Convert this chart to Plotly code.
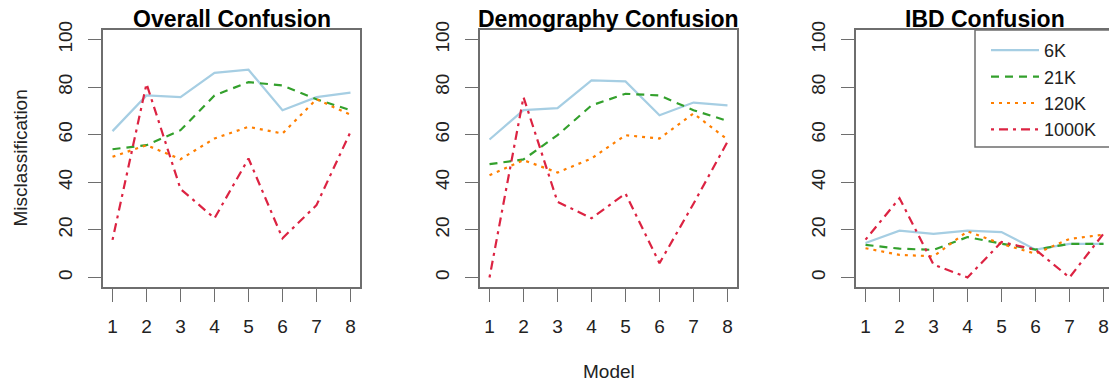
import plotly.graph_objects as go

# Misclassification (%) of each model (1-8) for four marker-panel sizes
models = [1, 2, 3, 4, 5, 6, 7, 8]
series_names = ["6K", "21K", "120K", "1000K"]
panel_titles = ["Overall Confusion", "Demography Confusion", "IBD Confusion"]

overall_6k = [61.5, 76.5, 75.8, 86.0, 87.3, 70.3, 75.8, 77.7]
overall_21k = [53.9, 55.6, 61.9, 76.5, 82.1, 80.7, 74.9, 70.3]
overall_120k = [50.7, 55.6, 49.7, 58.4, 63.3, 60.5, 74.9, 68.4]
overall_1000k = [15.8, 81.4, 37.2, 24.9, 50.0, 16.5, 30.4, 61.2]

demog_6k = [58.0, 70.3, 71.2, 82.8, 82.4, 68.2, 73.5, 72.3]
demog_21k = [47.6, 49.6, 59.8, 72.3, 77.2, 76.5, 70.3, 65.8]
demog_120k = [43.0, 49.3, 44.1, 50.0, 59.8, 58.4, 68.9, 58.0]
demog_1000k = [0.0, 75.8, 31.8, 24.9, 35.3, 6.0, 31.0, 57.0]

ibd_6k = [14.5, 19.7, 18.3, 19.7, 19.1, 11.7, 14.1, 14.1]
ibd_21k = [13.7, 12.1, 11.6, 17.0, 14.2, 11.7, 14.1, 14.1]
ibd_120k = [12.3, 9.5, 8.9, 19.4, 14.1, 10.0, 16.2, 18.0]
ibd_1000k = [15.9, 33.3, 5.4, 0.0, 14.9, 11.7, 0.0, 18.4]

y_ticks = [0, 20, 40, 60, 80, 100]

panels = [
    [overall_6k, overall_21k, overall_120k, overall_1000k],
    [demog_6k, demog_21k, demog_120k, demog_1000k],
    [ibd_6k, ibd_21k, ibd_120k, ibd_1000k],
]

# line styles per series
colors = ["#a6cee3", "#33a02c", "#ff7f00", "#dc2342"]
dashes = ["solid", "8px,6px", "3px,5px", "3px,5px,9px,5px"]

W, H = 1109, 382
FONT = "Liberation Sans, Arial, sans-serif"


def fx(p):
    return p / W


def fy(p):
    return 1 - p / H


box_top, box_bottom = 30, 287
box_w = 257
lefts = [103, 480, 856]
unit = box_w / 7.56
axis_col = "#6e6e6e"

fig = go.Figure()
layout_axes = {}
for i, (left, series) in enumerate(zip(lefts, panels)):
    n = i + 1
    xa = "x" if n == 1 else f"x{n}"
    ya = "y" if n == 1 else f"y{n}"
    right = min(left + box_w, W)
    x_hi = 0.72 + (right - left) / unit
    for j, vals in enumerate(series):
        fig.add_trace(go.Scatter(
            x=models, y=vals, mode="lines", name=series_names[j],
            line=dict(color=colors[j], width=2.2, dash=dashes[j]),
            xaxis=xa, yaxis=ya, showlegend=(n == 3),
            hoverinfo="skip",
        ))
    layout_axes[f"xaxis{'' if n == 1 else n}"] = dict(
        domain=[fx(left), fx(right)], range=[0.72, x_hi], anchor=ya,
        tickmode="array", tickvals=models, ticktext=[str(m) for m in models],
        showgrid=False, zeroline=False, showline=True, mirror=True,
        linecolor=axis_col, linewidth=1.5,
        ticks="outside", ticklen=13, tickwidth=1.3, tickcolor=axis_col,
        tickfont=dict(family=FONT, size=19, color="#222"),
        ticklabelstandoff=8,
    )
    layout_axes[f"yaxis{'' if n == 1 else n}"] = dict(
        domain=[fy(box_bottom), fy(box_top)], range=[-4, 104], anchor=xa,
        tickmode="array", tickvals=y_ticks, ticktext=[str(v) for v in y_ticks],
        showgrid=False, zeroline=False, showline=True, mirror=(n != 3),
        linecolor=axis_col, linewidth=1.5,
        ticks="outside", ticklen=13, tickwidth=1.3, tickcolor=axis_col,
        tickangle=-90,
        tickfont=dict(family=FONT, size=19, color="#222"),
        ticklabelstandoff=9,
    )

annotations = []
for left, title in zip(lefts, panel_titles):
    annotations.append(dict(
        text=f"<b>{title}</b>", x=fx(left + box_w / 2), y=fy(19),
        xref="paper", yref="paper", xanchor="center", yanchor="middle",
        showarrow=False, font=dict(family=FONT, size=23, color="#000"),
    ))
annotations.append(dict(
    text="Misclassification", x=fx(20), y=fy((box_top + box_bottom) / 2),
    xref="paper", yref="paper", xanchor="center", yanchor="middle",
    textangle=-90, showarrow=False, font=dict(family=FONT, size=19, color="#222"),
))
annotations.append(dict(
    text="Model", x=fx(lefts[1] + box_w / 2), y=fy(371),
    xref="paper", yref="paper", xanchor="center", yanchor="middle",
    showarrow=False, font=dict(family=FONT, size=19, color="#222"),
))

# legend frame (runs off the right edge of the page)
shapes = [dict(
    type="rect", xref="paper", yref="paper",
    x0=fx(975), x1=fx(1130), y0=fy(147), y1=fy(box_top),
    line=dict(color=axis_col, width=1.5), fillcolor="white", layer="below",
)]

fig.update_layout(
    width=W, height=H,
    margin=dict(l=0, r=0, t=0, b=0, autoexpand=False),
    paper_bgcolor="white", plot_bgcolor="rgba(0,0,0,0)",
    showlegend=True,
    legend=dict(
        x=fx(986), y=fy(32), xanchor="left", yanchor="top",
        bgcolor="rgba(0,0,0,0)", borderwidth=0,
        font=dict(family=FONT, size=18, color="#222"),
        itemwidth=48, tracegroupgap=0,
    ),
    annotations=annotations, shapes=shapes,
    **layout_axes,
)

fig.write_html("out.html")
